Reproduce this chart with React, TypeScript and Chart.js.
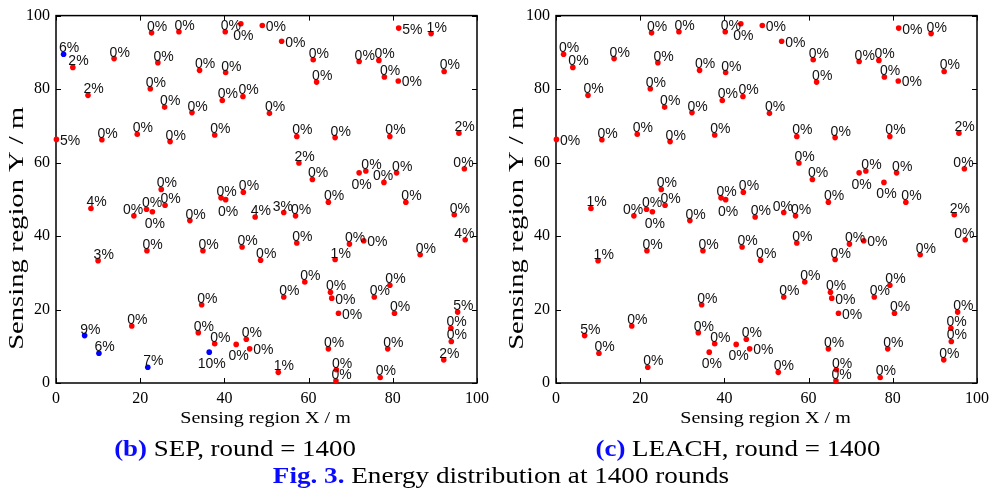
import React, { useEffect, useRef } from "react";
import { Chart, registerables } from "chart.js";

Chart.register(...registerables);

const SERIF = "'Liberation Serif', 'Times New Roman', Times, serif";
const SANS = "'Liberation Sans', Arial, Helvetica, sans-serif";

// Node positions in the 100 m x 100 m sensing field (same deployment for both protocols)
const NODE_X = [
  1.8, 4.0, 7.6, 0.1, 10.9, 13.8, 22.7, 24.2, 22.4, 25.8,
  19.3, 27.1, 29.2, 32.3, 34.1, 40.2, 43.9, 49.0, 40.3, 39.5,
  44.4, 37.7, 25.0, 39.2, 40.3, 44.5, 25.9, 53.6, 61.1, 61.9,
  50.7, 57.2, 66.3, 79.3, 72.0, 76.7, 78.0, 81.3, 81.4, 89.1,
  92.2, 95.7, 97.0, 57.7, 60.9, 72.0, 73.6, 77.9, 80.9, 64.7,
  83.1, 8.3, 18.5, 21.5, 22.9, 31.8, 47.3, 21.6, 10.0, 34.9,
  44.2, 48.6, 34.6, 18.0, 6.8, 10.2, 21.8, 33.8, 36.4, 37.7,
  42.8, 45.2, 46.0, 54.1, 56.9, 94.6, 97.2, 57.2, 69.7, 73.1,
  86.5, 66.3, 59.1, 54.1, 65.2, 65.5, 67.1, 79.3, 75.6, 80.4,
  95.4, 93.8, 93.9, 92.1, 64.7, 78.8, 52.8, 66.5, 66.6, 77.0,
];
const NODE_Y = [
  89.5, 85.9, 78.3, 66.3, 66.2, 88.3, 95.3, 87.2, 80.1, 75.1,
  67.7, 65.7, 95.6, 73.6, 85.1, 95.6, 97.8, 97.3, 84.5, 76.9,
  78.0, 67.5, 52.7, 50.4, 49.9, 51.9, 48.4, 93.0, 88.0, 81.9,
  73.4, 67.1, 66.8, 67.1, 87.5, 87.8, 83.3, 82.2, 96.6, 95.1,
  84.8, 68.0, 58.3, 59.9, 55.4, 57.2, 57.7, 54.6, 57.2, 49.2,
  49.2, 47.5, 45.5, 47.3, 46.6, 44.2, 45.2, 36.0, 33.3, 36.0,
  37.0, 33.4, 21.3, 15.5, 12.9, 8.1, 4.3, 13.7, 8.4, 10.7,
  10.5, 11.9, 9.3, 46.4, 45.5, 45.8, 39.0, 38.1, 37.8, 38.7,
  34.9, 33.6, 27.5, 23.4, 24.7, 23.1, 19.0, 26.6, 23.4, 19.0,
  19.3, 14.9, 11.3, 6.3, 9.3, 9.3, 2.9, 0.6, 3.6, 1.5,
];

// Residual energy (%) of each node at round 1400
const SEP_ENERGY = [
  6, 2, 2, 5, 0, 0, 0, 0, 0, 0,
  0, 0, 0, 0, 0, 0, 0, 0, 0, 0,
  0, 0, 0, 0, 0, 0, 0, 0, 0, 0,
  0, 0, 0, 0, 0, 0, 0, 0, 5, 1,
  0, 2, 0, 2, 0, 0, 0, 0, 0, 0,
  0, 4, 0, 0, 0, 0, 4, 0, 3, 0,
  0, 0, 0, 0, 9, 6, 7, 0, 10, 0,
  0, 0, 0, 3, 0, 0, 4, 0, 0, 0,
  0, 1, 0, 0, 0, 0, 0, 0, 0, 0,
  5, 0, 0, 2, 0, 0, 1, 0, 0, 0,
];
const LEACH_ENERGY = [
  0, 0, 0, 0, 0, 0, 0, 0, 0, 0,
  0, 0, 0, 0, 0, 0, 0, 0, 0, 0,
  0, 0, 0, 0, 0, 0, 0, 0, 0, 0,
  0, 0, 0, 0, 0, 0, 0, 0, 0, 0,
  0, 2, 0, 0, 0, 0, 0, 0, 0, 0,
  0, 1, 0, 0, 0, 0, 0, 0, 1, 0,
  0, 0, 0, 0, 5, 0, 0, 0, 0, 0,
  0, 0, 0, 0, 0, 2, 0, 0, 0, 0,
  0, 0, 0, 0, 0, 0, 0, 0, 0, 0,
  0, 0, 0, 0, 0, 0, 0, 0, 0, 0,
];

// Nodes acting as cluster heads under SEP
const SEP_HEADS = [0, 64, 65, 66, 68];
const LEACH_HEADS: number[] = [];

const AXIS_TICKS = [0, 20, 40, 60, 80, 100];

// Label placement around each dot: t = above, r = right, b = below, tl = above-left
type Side = "t" | "r" | "b" | "tl";
const SEP_SIDE: Record<number, Side> = {
  3: "r", 16: "b", 17: "r", 24: "b", 27: "r", 37: "r", 38: "r", 42: "tl",
  45: "b", 47: "tl", 52: "tl", 54: "b", 68: "b", 70: "b", 72: "r", 73: "tl",
  76: "tl", 79: "r", 85: "r", 86: "r",
};
const LEACH_SIDE: Record<number, Side> = { ...SEP_SIDE, 47: "b" };

function buildChart(
  canvas: HTMLCanvasElement,
  energy: number[],
  heads: number[],
  sides: Record<number, Side>,
  padRight: number
) {
  const points = NODE_X.map((x, i) => ({ x, y: NODE_Y[i] }));
  const colors = NODE_X.map((_, i) => (heads.includes(i) ? "#0000ff" : "#ff0000"));

  const framePlugin = {
    id: "frameAndTitles",
    beforeDatasetsDraw(chart: any) {
      const { ctx, chartArea: a, scales } = chart;
      ctx.save();
      ctx.strokeStyle = "#000";
      ctx.lineWidth = 1.5;
      ctx.strokeRect(a.left, a.top, a.right - a.left, a.bottom - a.top);
      ctx.lineWidth = 1;
      const L = 5;
      ctx.beginPath();
      for (const v of AXIS_TICKS) {
        const x = Math.round(scales.x.getPixelForValue(v)) + 0.5;
        ctx.moveTo(x, a.bottom);
        ctx.lineTo(x, a.bottom - L);
        ctx.moveTo(x, a.top);
        ctx.lineTo(x, a.top + L);
        const y = Math.round(scales.y.getPixelForValue(v)) + 0.5;
        ctx.moveTo(a.left, y);
        ctx.lineTo(a.left + L, y);
        ctx.moveTo(a.right, y);
        ctx.lineTo(a.right - L, y);
      }
      ctx.stroke();
      ctx.restore();
    },
    afterDatasetsDraw(chart: any) {
      const { ctx } = chart;
      const meta = chart.getDatasetMeta(0);
      ctx.save();
      ctx.font = `14px ${SANS}`;
      ctx.fillStyle = "#111";
      ctx.textBaseline = "alphabetic";
      ctx.textAlign = "left";
      meta.data.forEach((el: any, i: number) => {
        const text = `${energy[i]}%`;
        const w = ctx.measureText(text).width;
        const side = sides[i] || "t";
        let tx = el.x - 4.5;
        let ty = el.y - 2;
        if (side === "r") {
          tx = el.x + 3.5;
          ty = el.y + 5.5;
        } else if (side === "b") {
          tx = el.x + 2.5 - w / 2;
          ty = el.y + 16;
        } else if (side === "tl") {
          tx = el.x - 11;
          ty = el.y - 2;
        }
        ctx.fillText(text, tx, ty);
      });
      ctx.restore();
    },
    afterDraw(chart: any) {
      const { ctx, chartArea: a } = chart;
      ctx.save();
      ctx.fillStyle = "#000";
      ctx.textAlign = "center";
      ctx.textBaseline = "alphabetic";
      // x-axis title
      ctx.save();
      ctx.translate((a.left + a.right) / 2 - 1, a.bottom + 40);
      ctx.scale(1.18, 1);
      ctx.font = `17px ${SERIF}`;
      ctx.fillText("Sensing region X / m", 0, 0);
      ctx.restore();
      // y-axis title
      ctx.save();
      ctx.translate(a.left - 33, (a.top + a.bottom) / 2 + 29);
      ctx.rotate(-Math.PI / 2);
      ctx.font = `20px ${SERIF}`;
      const w = ctx.measureText("Sensing region Y / m").width;
      ctx.scale(243 / w, 1);
      ctx.fillText("Sensing region Y / m", 0, 0);
      ctx.restore();
      ctx.restore();
    },
  };

  const axisCommon = {
    type: "linear" as const,
    min: 0,
    max: 100,
    grid: { display: false, drawTicks: false },
    border: { display: false },
    ticks: {
      stepSize: 20,
      color: "#000",
      font: { family: SERIF, size: 16 },
    },
  };

  return new Chart(canvas, {
    type: "scatter",
    data: {
      datasets: [
        {
          data: points,
          pointBackgroundColor: colors,
          pointBorderWidth: 0,
          pointRadius: 2.8,
          pointHoverRadius: 2.8,
          clip: false as any,
        },
      ],
    },
    options: {
      responsive: false,
      animation: false,
      events: [],
      layout: { padding: { left: 0, top: 12, right: padRight, bottom: 0 } },
      plugins: {
        legend: { display: false },
        tooltip: { enabled: false },
      },
      scales: {
        x: {
          ...axisCommon,
          position: "bottom",
          ticks: { ...axisCommon.ticks, padding: 6, maxRotation: 0 },
          afterFit: (s: any) => {
            s.height = 57;
          },
        },
        y: {
          ...axisCommon,
          position: "left",
          ticks: { ...axisCommon.ticks, padding: 6 },
          afterFit: (s: any) => {
            s.width = 56;
          },
        },
      },
    },
    plugins: [framePlugin],
  });
}

function Panel(props: {
  energy: number[];
  heads: number[];
  sides: Record<number, Side>;
  padRight: number;
  left: number;
}) {
  const ref = useRef<HTMLCanvasElement>(null);
  useEffect(() => {
    if (!ref.current) return;
    const chart = buildChart(ref.current, props.energy, props.heads, props.sides, props.padRight);
    return () => chart.destroy();
  }, []);
  return (
    <canvas
      ref={ref}
      width={495}
      height={440}
      style={{ position: "absolute", left: props.left, top: 0, width: 495, height: 440 }}
    />
  );
}

function Caption(props: { cx: number; top: number; size: number; stretch: number; children: React.ReactNode }) {
  return (
    <div
      style={{
        position: "absolute",
        left: props.cx - 300,
        width: 600,
        top: props.top,
        textAlign: "center",
        fontFamily: SERIF,
        fontSize: props.size,
        lineHeight: `${props.size}px`,
        color: "#000",
        whiteSpace: "nowrap",
        transform: `scaleX(${props.stretch})`,
      }}
    >
      {props.children}
    </div>
  );
}

const BLUE = "#0a0aff";

export default function App() {
  return (
    <div
      style={{
        position: "fixed",
        left: 0,
        top: 0,
        width: 995,
        height: 496,
        background: "#fff",
        overflow: "hidden",
      }}
    >
      <Panel energy={SEP_ENERGY} heads={SEP_HEADS} sides={SEP_SIDE} padRight={16} left={0} />
      <Panel energy={LEACH_ENERGY} heads={LEACH_HEADS} sides={LEACH_SIDE} padRight={17} left={500} />
      <Caption cx={235} top={437} size={23} stretch={1.17}>
        <b style={{ color: BLUE }}>(b)</b> SEP, round = 1400
      </Caption>
      <Caption cx={738} top={437} size={23} stretch={1.17}>
        <b style={{ color: BLUE }}>(c)</b> LEACH, round = 1400
      </Caption>
      <Caption cx={501} top={464} size={23} stretch={1.18}>
        <b style={{ color: BLUE }}>Fig. 3.</b> Energy distribution at 1400 rounds
      </Caption>
    </div>
  );
}
